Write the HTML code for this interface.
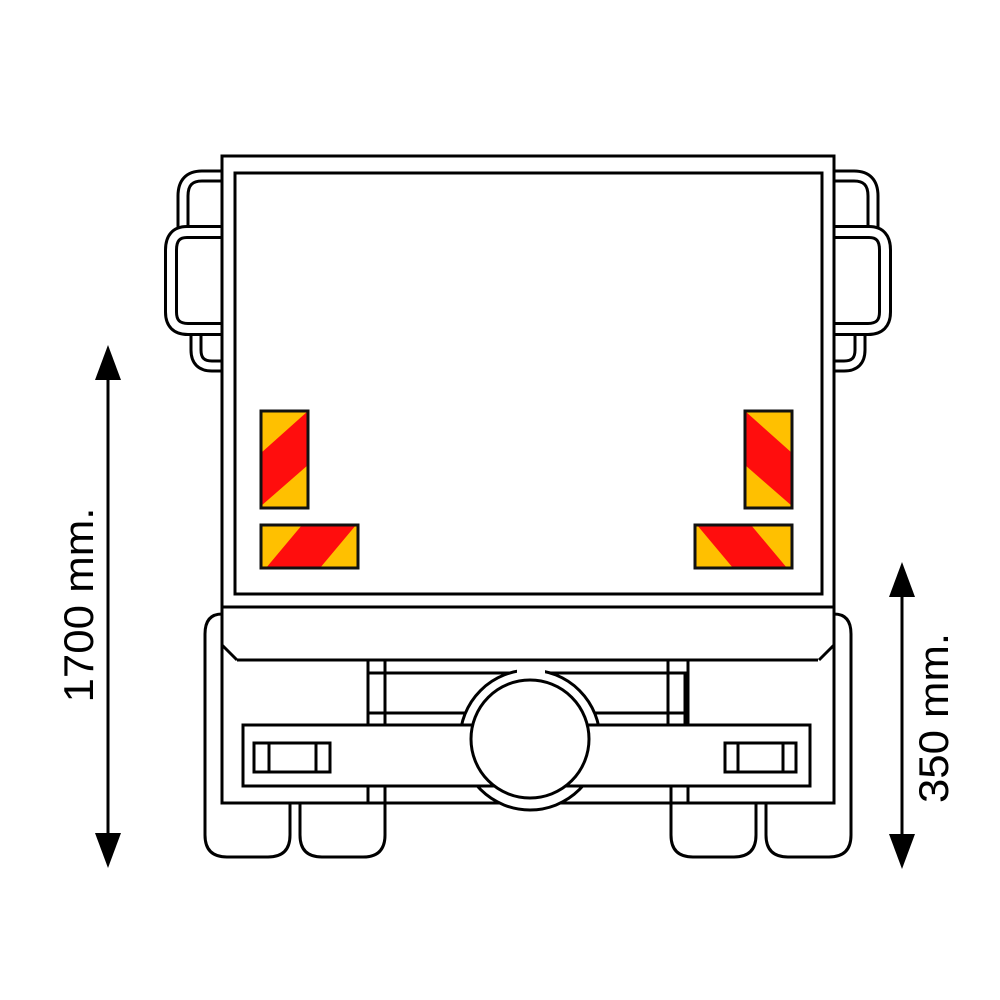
<!DOCTYPE html>
<html><head><style>html,body{margin:0;padding:0;background:#fff}svg{display:block}</style></head>
<body>
<svg width="1000" height="1000" viewBox="0 0 1000 1000" xmlns="http://www.w3.org/2000/svg">
<defs>
<g id="handles">
  <path d="M222,176 H202 Q183,176 183,196 V230" fill="none" stroke="#000" stroke-width="13"/>
  <path d="M222,176 H202 Q183,176 183,196 V230" fill="none" stroke="#fff" stroke-width="7"/>
  <path d="M196,330 V350 Q196,366 212,366 H222" fill="none" stroke="#000" stroke-width="13"/>
  <path d="M196,330 V350 Q196,366 212,366 H222" fill="none" stroke="#fff" stroke-width="7"/>
  <path d="M222,232 H187 Q171,232 171,250 V312 Q171,329 188,329 H222" fill="none" stroke="#000" stroke-width="14"/>
  <path d="M222,232 H187 Q171,232 171,250 V312 Q171,329 188,329 H222" fill="none" stroke="#fff" stroke-width="8"/>
</g>
<g id="refl">
  <rect x="261" y="411" width="47" height="97" fill="#ffc000"/>
  <polygon points="261,453 308,411 308,465 261,506" fill="#ff0d0d"/>
  <rect x="261" y="411" width="47" height="97" fill="none" stroke="#111" stroke-width="3"/>
  <rect x="261" y="525" width="97" height="43" fill="#ffc000"/>
  <polygon points="302,525 356,525 320,568 266,568" fill="#ff0d0d"/>
  <rect x="261" y="525" width="97" height="43" fill="none" stroke="#111" stroke-width="3"/>
</g>
<g id="lowside" fill="none" stroke="#000" stroke-width="3">
  <path d="M222,614 Q205,614 205,634 V835 Q205,857 227,857 H268 Q290,857 290,835 V803"/>
  <path d="M300,803 V835 Q300,857 322,857 H363 Q385,857 385,835 V786"/>
  <path d="M222,607 V803 H368 V660"/>
  <path d="M222,645 L237,660"/>
  <line x1="368" y1="803" x2="500" y2="803"/>
  <rect x="254" y="743" width="76" height="29" fill="#fff"/>
  <line x1="269" y1="743" x2="269" y2="772"/>
  <line x1="316" y1="743" x2="316" y2="772"/>
</g>
</defs>

<use href="#handles"/>
<use href="#handles" transform="translate(1056,0) scale(-1,1)"/>

<rect x="222" y="156" width="612" height="451" fill="#fff" stroke="#000" stroke-width="3"/>
<rect x="235" y="173" width="587" height="421" fill="#fff" stroke="#000" stroke-width="3"/>

<use href="#refl"/>
<use href="#refl" transform="translate(1053,0) scale(-1,1)"/>

<!-- lower structure -->
<line x1="237" y1="660" x2="818" y2="660" stroke="#000" stroke-width="3"/>
<use href="#lowside"/>
<use href="#lowside" transform="translate(1056,0) scale(-1,1)"/>

<!-- upper beam -->
<rect x="368" y="673" width="317" height="40" fill="#fff" stroke="#000" stroke-width="3"/>
<g stroke="#000" stroke-width="3">
<line x1="385" y1="660" x2="385" y2="725"/>
<line x1="668" y1="660" x2="668" y2="725"/>
<line x1="368" y1="713" x2="368" y2="725"/>
<line x1="685" y1="713" x2="685" y2="725"/>
</g>
<!-- outer ring -->
<circle cx="530" cy="740" r="70" fill="#fff" stroke="#000" stroke-width="3"/>
<rect x="517" y="662" width="28" height="14" fill="#fff"/>
<!-- bar -->
<rect x="243" y="725" width="567" height="61" fill="#fff" stroke="#000" stroke-width="3"/>
<rect x="254" y="743" width="76" height="29" fill="none" stroke="#000" stroke-width="3"/>
<line x1="269" y1="743" x2="269" y2="772" stroke="#000" stroke-width="3"/>
<line x1="316" y1="743" x2="316" y2="772" stroke="#000" stroke-width="3"/>
<rect x="725" y="743" width="71" height="29" fill="none" stroke="#000" stroke-width="3"/>
<line x1="738" y1="743" x2="738" y2="772" stroke="#000" stroke-width="3"/>
<line x1="783" y1="743" x2="783" y2="772" stroke="#000" stroke-width="3"/>
<!-- inner circle -->
<circle cx="530" cy="739" r="59" fill="#fff" stroke="#000" stroke-width="3"/>

<!-- dimension arrows -->
<g stroke="#000" stroke-width="3">
<line x1="108" y1="370" x2="108" y2="845"/>
<line x1="902" y1="585" x2="902" y2="848"/>
</g>
<g fill="#000">
<polygon points="108,345 95,380 121,380"/>
<polygon points="108,868 95,833 121,833"/>
<polygon points="902,562 889,597 915,597"/>
<polygon points="902,869 889,834 915,834"/>
</g>
<text x="0" y="0" transform="translate(93,605) rotate(-90)" font-family="Liberation Sans, sans-serif" font-size="42" text-anchor="middle" textLength="195" lengthAdjust="spacingAndGlyphs">1700 mm.</text>
<text x="0" y="0" transform="translate(948,718) rotate(-90)" font-family="Liberation Sans, sans-serif" font-size="42" text-anchor="middle" textLength="170" lengthAdjust="spacingAndGlyphs">350 mm.</text>
</svg>
</body></html>
